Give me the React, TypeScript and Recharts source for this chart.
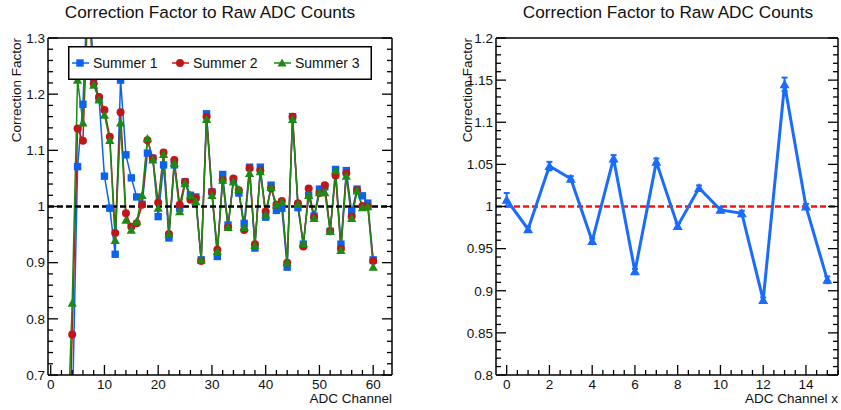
import React from 'react';
import { LineChart, Line, XAxis, YAxis, ReferenceLine, Legend, ErrorBar } from 'recharts';

const FONT = '"Liberation Sans", Arial, Helvetica, sans-serif';

// left pad: three summers, per ADC channel
const channels = [3, 4, 5, 6, 7, 8, 9, 10, 11, 12, 13, 14, 15, 16, 17, 18, 19, 20, 21, 22, 23, 24, 25, 26, 27, 28, 29, 30, 31, 32, 33, 34, 35, 36, 37, 38, 39, 40, 41, 42, 43, 44, 45, 46, 47, 48, 49, 50, 51, 52, 53, 54, 55, 56, 57, 58, 59, 60];
const summer1 = [0.30, 0.62, 1.071, 1.182, 1.42, 1.23, 1.191, 1.054, 0.997, 0.915, 1.225, 1.092, 1.051, 1.017, 1.004, 1.095, 1.086, 0.982, 1.074, 0.944, 1.074, 0.997, 1.044, 1.02, 1.017, 0.905, 1.165, 1.026, 0.911, 1.057, 0.967, 1.047, 1.024, 0.97, 1.07, 0.926, 1.07, 0.981, 1.038, 0.993, 0.997, 0.892, 1.16, 0.998, 0.933, 1.02, 0.983, 1.031, 1.035, 0.956, 1.066, 0.933, 1.064, 0.991, 1.031, 1.019, 1.006, 0.905];
const summer2 = [0.45, 0.772, 1.139, 1.117, 1.38, 1.219, 1.195, 1.172, 1.124, 0.953, 1.168, 0.988, 0.964, 0.97, 1.003, 1.118, 1.086, 1.007, 1.096, 0.951, 1.083, 1.003, 1.044, 1.012, 1.015, 0.903, 1.16, 1.026, 0.923, 1.047, 0.963, 1.05, 1.029, 0.958, 1.068, 0.933, 1.064, 0.991, 1.032, 1.003, 1.01, 0.9, 1.16, 1.006, 0.929, 1.032, 0.981, 1.024, 1.038, 0.956, 1.055, 0.925, 1.059, 0.982, 1.029, 1.001, 1.0, 0.903];
const summer3 = [0.55, 0.828, 1.225, 1.149, 1.4, 1.216, 1.19, 1.163, 1.118, 0.94, 1.149, 0.976, 0.958, 0.973, 1.02, 1.121, 1.083, 0.997, 1.093, 0.951, 1.077, 0.991, 1.041, 1.02, 1.009, 0.905, 1.155, 1.02, 0.92, 1.047, 0.963, 1.044, 1.03, 0.963, 1.059, 0.931, 1.062, 0.985, 1.034, 1.003, 1.008, 0.9, 1.155, 1.004, 0.934, 1.02, 0.979, 1.025, 1.025, 0.956, 1.064, 0.922, 1.054, 0.979, 1.028, 0.998, 1.0, 0.892];
const seriesNames = ['Summer 1', 'Summer 2', 'Summer 3'];

// right pad: averaged factor per channel x
const channelsX = [0, 1, 2, 3, 4, 5, 6, 7, 8, 9, 10, 11, 12, 13, 14, 15];
const factorsX = [1.008, 0.973, 1.048, 1.033, 0.959, 1.057, 0.923, 1.053, 0.977, 1.022, 0.996, 0.992, 0.889, 1.145, 1.0, 0.913];
const errorsX = [0.008, 0.003, 0.005, 0.003, 0.003, 0.004, 0.003, 0.004, 0.003, 0.003, 0.003, 0.003, 0.003, 0.008, 0.003, 0.004];

const leftXMajor = [0, 10, 20, 30, 40, 50, 60];
const leftYMajor = [0.7, 0.8, 0.9, 1.0, 1.1, 1.2, 1.3];
const rightXMajor = [0, 2, 4, 6, 8, 10, 12, 14];
const rightYMajor = [0.8, 0.85, 0.9, 0.95, 1.0, 1.05, 1.1, 1.15, 1.2];

const steps = (a: number, b: number, s: number) => {
  const out: number[] = [];
  for (let i = 0; a + i * s <= b + 1e-9; i++) out.push(+(a + i * s).toFixed(4));
  return out;
};

const leftData = channels.map((ch, i) => ({ ch, s1: summer1[i], s2: summer2[i], s3: summer3[i] }));
const rightData = channelsX.map((ch, i) => ({ ch, f: factorsX[i], err: errorsX[i] }));

const BLUE = '#0b62f0';
const RED = '#c0161a';
const GREEN = '#1d8a14';
const BLUE2 = '#1a6bff';

const fmt = (v: number) => String(parseFloat(v.toFixed(3)));

const makeTick = (side: 'bottom' | 'left' | 'right', majors: number[], labels: boolean) => (props: any) => {
  const { x, y, payload } = props;
  const v = payload.value;
  const major = majors.some((m) => Math.abs(m - v) < 1e-6);
  const len = major ? 10 : 5;
  const txt = { fontFamily: FONT, fontSize: 13.5, fill: '#111' };
  if (side === 'bottom') {
    return (
      <g>
        <line x1={x} x2={x} y1={y} y2={y - len} stroke="#000" strokeWidth={1.3} />
        {labels && major && (
          <text x={x} y={y + 4} dy="0.71em" textAnchor="middle" {...txt}>{fmt(v)}</text>
        )}
      </g>
    );
  }
  const dir = side === 'left' ? 1 : -1;
  return (
    <g>
      <line x1={x} x2={x + dir * len} y1={y} y2={y} stroke="#000" strokeWidth={1.3} />
      {labels && major && (
        <text x={x - 3} y={y} dy="0.355em" textAnchor="end" {...txt}>{fmt(v)}</text>
      )}
    </g>
  );
};

const Square = (p: any) =>
  p.cx == null ? null : <rect key={p.index} x={p.cx - 3.7} y={p.cy - 3.7} width={7.4} height={7.4} fill={BLUE} />;
const Circle = (p: any) =>
  p.cx == null ? null : <circle key={p.index} cx={p.cx} cy={p.cy} r={4} fill={RED} />;
const Tri = (color: string, s: number) => (p: any) =>
  p.cx == null ? null : (
    <polygon key={p.index} points={`${p.cx},${p.cy - s} ${p.cx - s},${p.cy + s * 0.8} ${p.cx + s},${p.cy + s * 0.8}`} fill={color} />
  );

const LegendBox = () => {
  const items = [
    { name: seriesNames[0], color: BLUE, shape: 'sq', x: 12 },
    { name: seriesNames[1], color: RED, shape: 'ci', x: 112 },
    { name: seriesNames[2], color: GREEN, shape: 'tr', x: 214 },
  ];
  return (
    <svg width={304} height={34} style={{ display: 'block' }}>
      <rect x={0.75} y={0.75} width={302.5} height={32.5} fill="#fff" stroke="#000" strokeWidth={1.5} />
      {items.map((it) => (
        <g key={it.name}>
          <line x1={it.x - 8} x2={it.x + 9} y1={17} y2={17} stroke={it.color} strokeWidth={1.5} />
          {it.shape === 'sq' && <rect x={it.x - 3.7} y={13.3} width={7.4} height={7.4} fill={it.color} />}
          {it.shape === 'ci' && <circle cx={it.x} cy={17} r={4} fill={it.color} />}
          {it.shape === 'tr' && (
            <polygon points={`${it.x},${12.5} ${it.x - 4.5},${20.6} ${it.x + 4.5},${20.6}`} fill={it.color} />
          )}
          <text x={it.x + 13} y={17} dy="0.355em" fontFamily={FONT} fontSize={14} fill="#111">{it.name}</text>
        </g>
      ))}
    </svg>
  );
};

const axisLine = { stroke: '#000', strokeWidth: 1.5 };

export default function App() {
  return (
    <div style={{ position: 'fixed', left: 0, top: 0, width: 841, height: 410, background: '#fff' }}>
      <div style={{ position: 'absolute', left: 0, top: 0 }}>
        <LineChart width={400} height={410} data={leftData} margin={{ top: 37, right: 0, bottom: 0, left: 0 }}>
          <XAxis
            dataKey="ch"
            type="number"
            domain={[-0.5, 63.5]}
            allowDataOverflow
            ticks={steps(0, 62, 2)}
            interval={0}
            tick={makeTick('bottom', leftXMajor, true)}
            tickLine={false}
            tickSize={0}
            tickMargin={0}
            axisLine={axisLine}
            height={35}
          />
          <XAxis xAxisId="t" orientation="top" type="number" domain={[-0.5, 63.5]} allowDataOverflow tick={false} tickLine={false} axisLine={axisLine} height={1} />
          <YAxis
            type="number"
            domain={[0.7, 1.3]}
            allowDataOverflow
            ticks={steps(0.7, 1.3, 0.02)}
            interval={0}
            tick={makeTick('left', leftYMajor, true)}
            tickLine={false}
            tickSize={0}
            tickMargin={0}
            axisLine={axisLine}
            width={48}
          />
          <YAxis
            yAxisId="r"
            orientation="right"
            type="number"
            domain={[0.7, 1.3]}
            allowDataOverflow
            ticks={steps(0.7, 1.3, 0.02)}
            interval={0}
            tick={makeTick('right', leftYMajor, false)}
            tickLine={false}
            tickSize={0}
            tickMargin={0}
            axisLine={axisLine}
            width={8}
          />
          <Line type="linear" dataKey="s1" name={seriesNames[0]} stroke={BLUE} strokeWidth={1.5} dot={Square} activeDot={false} isAnimationActive={false} />
          <Line type="linear" dataKey="s2" name={seriesNames[1]} stroke={RED} strokeWidth={1.5} dot={Circle} activeDot={false} isAnimationActive={false} />
          <Line type="linear" dataKey="s3" name={seriesNames[2]} stroke={GREEN} strokeWidth={1.5} dot={Tri(GREEN, 4.6)} activeDot={false} isAnimationActive={false} />
          <ReferenceLine y={1} stroke="#000" strokeWidth={2.5} strokeDasharray="6 3" />
          <Legend
            layout="horizontal"
            verticalAlign="middle"
            align="center"
            content={() => <LegendBox />}
            wrapperStyle={{ position: 'absolute', left: 68, top: 46, width: 304, height: 34 }}
          />
        </LineChart>
      </div>
      <div style={{ position: 'absolute', left: 420, top: 0 }}>
        <LineChart width={421} height={410} data={rightData} margin={{ top: 37, right: 0, bottom: 0, left: 28 }}>
          <XAxis
            dataKey="ch"
            type="number"
            domain={[-0.5, 15.5]}
            allowDataOverflow
            ticks={steps(0, 15.5, 0.5)}
            interval={0}
            tick={makeTick('bottom', rightXMajor, true)}
            tickLine={false}
            tickSize={0}
            tickMargin={0}
            axisLine={axisLine}
            height={35}
          />
          <XAxis xAxisId="t" orientation="top" type="number" domain={[-0.5, 15.5]} allowDataOverflow tick={false} tickLine={false} axisLine={axisLine} height={1} />
          <YAxis
            type="number"
            domain={[0.8, 1.2]}
            allowDataOverflow
            ticks={steps(0.8, 1.2, 0.01)}
            interval={0}
            tick={makeTick('left', rightYMajor, true)}
            tickLine={false}
            tickSize={0}
            tickMargin={0}
            axisLine={axisLine}
            width={48}
          />
          <YAxis
            yAxisId="r"
            orientation="right"
            type="number"
            domain={[0.8, 1.2]}
            allowDataOverflow
            ticks={steps(0.8, 1.2, 0.01)}
            interval={0}
            tick={makeTick('right', rightYMajor, false)}
            tickLine={false}
            tickSize={0}
            tickMargin={0}
            axisLine={axisLine}
            width={3}
          />
          <ReferenceLine y={1} stroke="#ff1010" strokeWidth={2.5} strokeDasharray="6 3" />
          <Line type="linear" dataKey="f" stroke={BLUE2} strokeWidth={3} dot={Tri(BLUE2, 5)} activeDot={false} isAnimationActive={false}>
            <ErrorBar dataKey="err" direction="y" width={3} stroke={BLUE2} strokeWidth={2} />
          </Line>
        </LineChart>
      </div>
      <svg width={841} height={410} style={{ position: 'absolute', left: 0, top: 0, pointerEvents: 'none' }}>
        <g fontFamily={FONT} fill="#111">
          <text x={210} y={12} dy="0.355em" textAnchor="middle" fontSize={17.2}>Correction Factor to Raw ADC Counts</text>
          <text x={668} y={12} dy="0.355em" textAnchor="middle" fontSize={17.2}>Correction Factor to Raw ADC Counts</text>
          <text transform="translate(21,38) rotate(-90)" textAnchor="end" fontSize={13.5}>Correction Factor</text>
          <text transform="translate(472,38) rotate(-90)" textAnchor="end" fontSize={13.5}>Correction Factor</text>
          <text x={392} y={403} textAnchor="end" fontSize={13.5}>ADC Channel</text>
          <text x={838} y={403} textAnchor="end" fontSize={13.5}>ADC Channel x</text>
        </g>
      </svg>
    </div>
  );
}
